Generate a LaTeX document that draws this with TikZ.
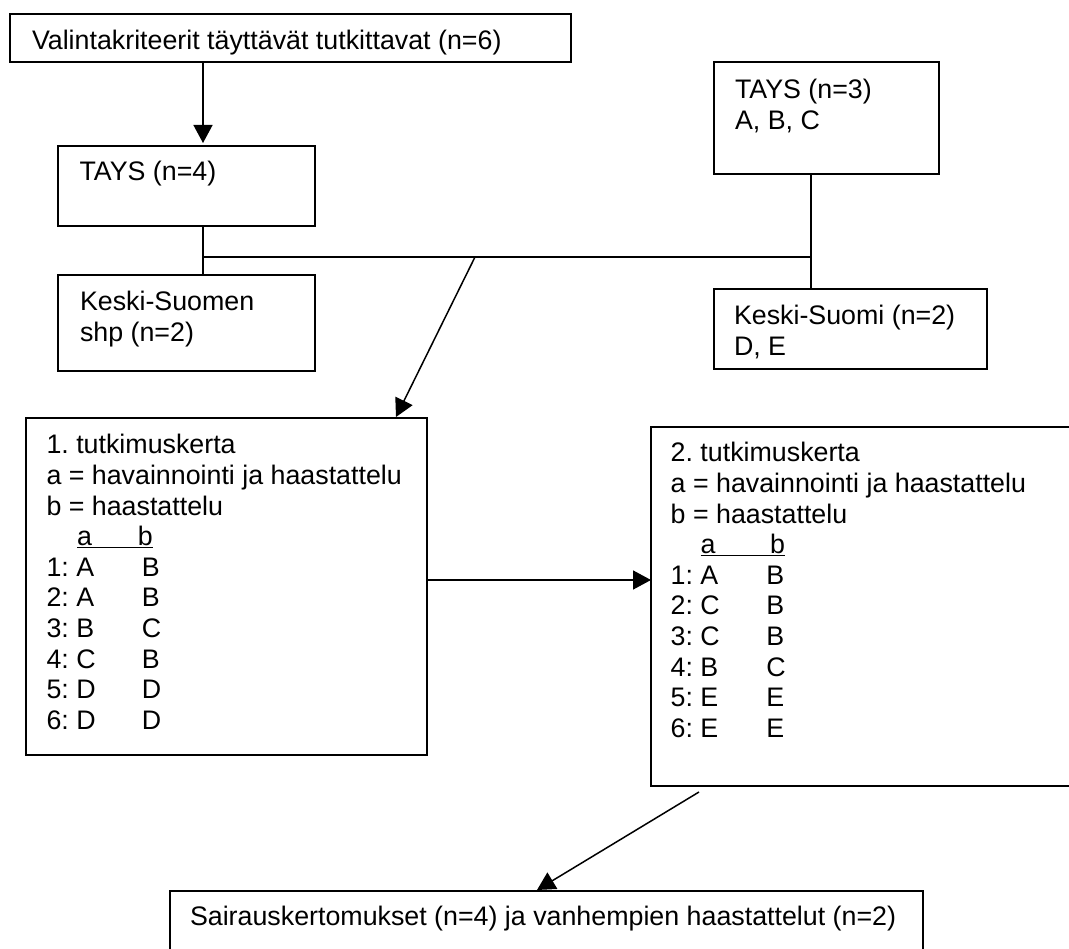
\documentclass[tikz,border=0pt]{standalone}
\usepackage{fontspec}
\setmainfont{Liberation Sans}
\usetikzlibrary{arrows.meta}
\frenchspacing
\begin{document}
\begin{tikzpicture}[x=1pt,y=-1pt,
  box/.style={draw, line width=1.5pt, rectangle, anchor=north west, inner sep=0pt, outer sep=0pt},
  txt/.style={anchor=base west, inner sep=0pt, outer sep=0pt, font=\fontsize{26.8pt}{30.6pt}\selectfont\frenchspacing},
  conn/.style={line width=1.5pt},
  arr/.style={line width=1.5pt, -{Triangle[length=18pt,width=19pt]}}]
\useasboundingbox (0,0) rectangle (1069,949);
\clip (0,0) rectangle (1069,949);
\fill[white] (0,0) rectangle (1069,949);

% boxes
\node[box, minimum width=561pt, minimum height=48pt]  (top)   at (10,14)  {};
\node[box, minimum width=257pt, minimum height=80pt]  (tays4) at (58,146) {};
\node[box, minimum width=257pt, minimum height=96pt]  (ksshp) at (58,275) {};
\node[box, minimum width=225pt, minimum height=112pt] (tays3) at (714,62) {};
\node[box, minimum width=273pt, minimum height=80pt]  (ks)    at (714,289) {};
\node[box, minimum width=401pt, minimum height=337pt] (t1)    at (26,418) {};
\node[box, minimum width=430pt, minimum height=359pt] (t2)    at (651,427) {};
\node[box, minimum width=753pt, minimum height=80pt]  (sk)    at (170,891) {};

% texts
\node[txt] (toptext) at (32,50) {Valintakriteerit täyttävät tutkittavat (n=6)};
\node[txt] (tays4text) at (79.5,181) {TAYS (n=4)};
\node[txt] (ksshptext) at (80,311) {\begin{tabular}[t]{@{}l@{}}Keski-Suomen\\shp (n=2)\end{tabular}};
\node[txt] (tays3text) at (735,99) {\begin{tabular}[t]{@{}l@{}}TAYS (n=3)\\A, B, C\end{tabular}};
\node[txt] (kstext) at (734,325) {\begin{tabular}[t]{@{}l@{}}Keski-Suomi (n=2)\\D, E\end{tabular}};
\node[txt] (t1text) at (46.5,454) {\begin{tabular}[t]{@{}l@{}}
1. tutkimuskerta\\
a = havainnointi ja haastattelu\\
b = haastattelu\\
\hspace*{30.5pt}\underline{\makebox[61pt][l]{a}b}\\
1: \makebox[65.5pt][l]{A}B\\
2: \makebox[65.5pt][l]{A}B\\
3: \makebox[65.5pt][l]{B}C\\
4: \makebox[65.5pt][l]{C}B\\
5: \makebox[65.5pt][l]{D}D\\
6: \makebox[65.5pt][l]{D}D
\end{tabular}};
\node[txt] (t2text) at (670.7,462) {\begin{tabular}[t]{@{}l@{}}
2. tutkimuskerta\\
a = havainnointi ja haastattelu\\
b = haastattelu\\
\hspace*{30pt}\underline{\makebox[69.5pt][l]{a}b}\\
1: \makebox[65.8pt][l]{A}B\\
2: \makebox[65.8pt][l]{C}B\\
3: \makebox[65.8pt][l]{C}B\\
4: \makebox[65.8pt][l]{B}C\\
5: \makebox[65.8pt][l]{E}E\\
6: \makebox[65.8pt][l]{E}E
\end{tabular}};
\node[txt] (sktext) at (190,925) {Sairauskertomukset (n=4) ja vanhempien haastattelut (n=2)};

% connector points
\coordinate (j1) at (203,257);
\coordinate (j2) at (811,257);
\coordinate (d1) at (475,257);
\coordinate (d1tip) at (396,417);
\coordinate (m) at (540,580);
\coordinate (d2) at (699,792);
\coordinate (d2tip) at (537,890);

% connectors
\draw[arr] (top.south -| j1) -- ([yshift=3pt]tays4.north -| j1);
\draw[conn] (tays4.south -| j1) -- (ksshp.north -| j1);
\draw[conn] (j1) -- (j2);
\draw[conn] (tays3.south -| j2) -- (ks.north -| j2);
\draw[arr] (d1) -- (d1tip);
\draw[arr] (t1.east |- m) -- (t2.west |- m);
\draw[arr] (d2) -- (d2tip);
\end{tikzpicture}
\end{document}
